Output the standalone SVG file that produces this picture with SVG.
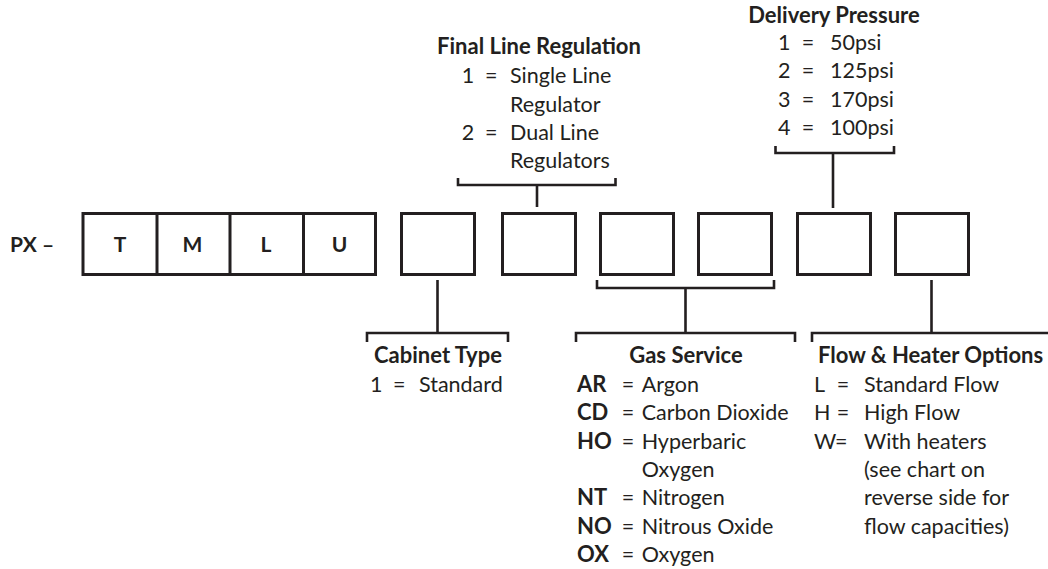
<svg xmlns="http://www.w3.org/2000/svg" width="1048" height="569" viewBox="0 0 1048 569">
<style>
text{font-family:Lato,"Open Sans","Liberation Sans",sans-serif;fill:#231f20;font-size:21.5px}
.b{font-weight:bold;font-size:22px}
.m{text-anchor:middle}
.box{fill:#fff;stroke:#231f20;stroke-width:3}
.ln{fill:none;stroke:#231f20;stroke-width:2.6}
</style>
<rect width="1048" height="569" fill="#fff"/>
<g id="prefix"><text class="b" x="10" y="251.5" style="font-size:21px">PX –</text></g>
<g id="fixed-code">
<rect class="box" x="83" y="213.5" width="292.5" height="61"/>
<path class="ln" d="M157,213.5V274.5M230,213.5V274.5M303.5,213.5V274.5" style="stroke-width:3"/>
<text class="b m" x="120" y="251.5" style="font-size:21px">T</text>
<text class="b m" x="192.5" y="251.5" style="font-size:21px">M</text>
<text class="b m" x="266" y="251.5" style="font-size:21px">L</text>
<text class="b m" x="339.5" y="251.5" style="font-size:21px">U</text>
</g>
<g id="box-cabinet"><rect class="box" x="401.5" y="213.5" width="73" height="61"/></g>
<g id="box-final-line"><rect class="box" x="502.5" y="213.5" width="73" height="61"/></g>
<g id="box-gas-1"><rect class="box" x="600.5" y="213.5" width="73" height="61"/></g>
<g id="box-gas-2"><rect class="box" x="698.5" y="213.5" width="73" height="61"/></g>
<g id="box-delivery"><rect class="box" x="797.5" y="213.5" width="73" height="61"/></g>
<g id="box-flow"><rect class="box" x="895.5" y="213.5" width="73" height="61"/></g>
<g id="connectors">
<path class="ln" d="M458,178V185H615.5V178M537,185V207"/>
<path class="ln" d="M775.5,146V153H894V146M833,153V208"/>
<path class="ln" d="M437.5,280V333M367,342V333H508V342"/>
<path class="ln" d="M597,280V288H774V280M685.5,288V333M576,342V333H795V342"/>
<path class="ln" d="M931.5,280V333M812,342V333H1048"/>
</g>
<g id="final-line-regulation">
<text class="b m" x="539" y="54">Final Line Regulation</text>
<text x="461.7" y="83">1</text><text x="485" y="83">=</text><text x="510" y="83">Single Line</text>
<text x="510" y="111.5">Regulator</text>
<text x="461.7" y="140">2</text><text x="485" y="140">=</text><text x="510" y="140">Dual Line</text>
<text x="510" y="168">Regulators</text>
</g>
<g id="delivery-pressure">
<text class="b m" x="834" y="23">Delivery Pressure</text>
<text x="778" y="49.5">1</text><text x="801.7" y="49.5">=</text><text x="830" y="49.5">50psi</text>
<text x="778" y="78">2</text><text x="801.7" y="78">=</text><text x="830" y="78">125psi</text>
<text x="778" y="106.5">3</text><text x="801.7" y="106.5">=</text><text x="830" y="106.5">170psi</text>
<text x="778" y="135">4</text><text x="801.7" y="135">=</text><text x="830" y="135">100psi</text>
</g>
<g id="cabinet-type">
<text class="b m" x="438" y="363">Cabinet Type</text>
<text x="370" y="391.5">1</text><text x="393" y="391.5">=</text><text x="419" y="391.5">Standard</text>
</g>
<g id="gas-service">
<text class="b m" x="686" y="363">Gas Service</text>
<text class="b" x="577" y="391.5">AR</text><text x="621.7" y="391.5">=</text><text x="641.7" y="391.5">Argon</text>
<text class="b" x="577" y="420">CD</text><text x="621.7" y="420">=</text><text x="641.7" y="420">Carbon Dioxide</text>
<text class="b" x="577" y="448.5">HO</text><text x="621.7" y="448.5">=</text><text x="641.7" y="448.5">Hyperbaric</text>
<text x="641.7" y="477">Oxygen</text>
<text class="b" x="577" y="505">NT</text><text x="621.7" y="505">=</text><text x="641.7" y="505">Nitrogen</text>
<text class="b" x="577" y="533.5">NO</text><text x="621.7" y="533.5">=</text><text x="641.7" y="533.5">Nitrous Oxide</text>
<text class="b" x="577" y="562">OX</text><text x="621.7" y="562">=</text><text x="641.7" y="562">Oxygen</text>
</g>
<g id="flow-heater-options">
<text class="b" x="818" y="363">Flow &amp; Heater Options</text>
<text x="814" y="391.5">L</text><text x="836.7" y="391.5">=</text><text x="864" y="391.5">Standard Flow</text>
<text x="814" y="420">H</text><text x="836.7" y="420">=</text><text x="864" y="420">High Flow</text>
<text x="814" y="448.5">W</text><text x="835" y="448.5">=</text><text x="864" y="448.5">With heaters</text>
<text x="864" y="477">(see chart on</text>
<text x="864" y="505">reverse side for</text>
<text x="864" y="533.5">flow capacities)</text>
</g>
</svg>
